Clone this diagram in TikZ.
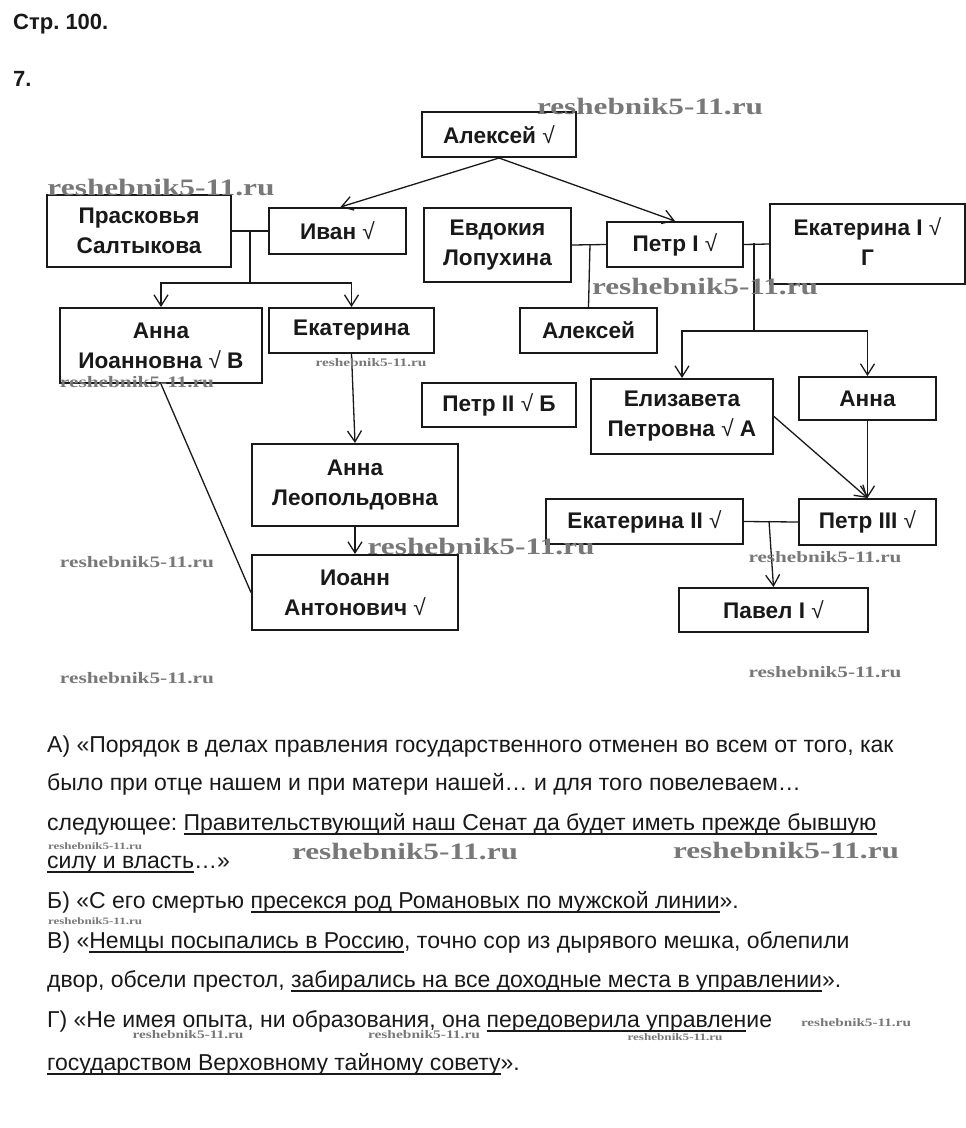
\documentclass[tikz,border=0pt]{standalone}
\usepackage{fontspec}
\setmainfont{Liberation Sans}
\newfontfamily\wmfont{Liberation Serif}
\usetikzlibrary{arrows.meta}
\frenchspacing
\newsavebox\myulbox
\newcommand{\myul}[1]{\sbox\myulbox{#1}\rlap{\rule[-4.6pt]{\wd\myulbox}{2pt}}\usebox\myulbox}
\newcommand{\chk}{{\mdseries √}}
\newlength\wmh
\newcommand{\wmark}[1]{\setlength\wmh{#1}\resizebox{#1}{0.072\wmh}{\wmfont\bfseries reshebnik5-11.ru}}
\definecolor{ink}{RGB}{25,25,25}
\definecolor{wmgray}{RGB}{120,120,120}
\begin{document}
\begin{tikzpicture}[x=1pt,y=-1pt,
  box/.style={draw=ink, line width=2pt, inner sep=0pt, align=center, anchor=north west,
    font=\fontsize{22.6}{30}\selectfont\bfseries, text=ink},
  conn/.style={draw=ink, line width=1.3pt},
  arr/.style={conn, -{Straight Barb[length=11pt,width=14pt,line width=1.3pt]}},
  body/.style={anchor=base west, inner sep=0pt, font=\fontsize{23}{27}\selectfont, text=ink},
  head/.style={anchor=base west, inner sep=0pt, font=\fontsize{22}{26}\selectfont\bfseries, text=ink},
  wm/.style={inner sep=0pt, text=wmgray}]
\useasboundingbox[fill=white] (0,0) rectangle (966,1128);

\node[head] (h1) at (13,29) {Стр. 100.};
\node[head] (h2) at (13,86) {7.};

% boxes
\node[box, minimum width=154pt, minimum height=45pt] (alex) at (421,111) {Алексей \chk};
\node[box, minimum width=184pt, minimum height=72pt] (prask) at (46,194) {Прасковья\\Салтыкова};
\node[box, minimum width=137pt, minimum height=46pt] (ivan) at (268,207) {Иван \chk};
\node[box, minimum width=147pt, minimum height=74pt] (evdok) at (423,207) {Евдокия\\Лопухина};
\node[box, minimum width=136pt, minimum height=45pt] (petr1) at (606,221) {Петр I \chk};
\node[box, minimum width=195pt, minimum height=80pt] (ekat1) at (769,203) {\raisebox{5pt}{\shortstack{Екатерина I \chk\\[7pt]Г}}};
\node[box, minimum width=202pt, minimum height=75pt] (annaI) at (59,307) {Анна\\Иоанновна \chk{} В};
\node[box, minimum width=165pt, minimum height=45pt] (ekat) at (268,307) {Екатерина};
\node[box, minimum width=137pt, minimum height=45pt] (alexS) at (519,307) {Алексей};
\node[box, minimum width=154pt, minimum height=44pt] (petr2) at (421,382) {Петр II \chk{} Б};
\node[box, minimum width=182pt, minimum height=75pt] (eliz) at (590,378) {Елизавета\\Петровна \chk{} А};
\node[box, minimum width=137pt, minimum height=43pt] (anna) at (798,376) {Анна};
\node[box, minimum width=206pt, minimum height=82pt] (annaL) at (251,443) {Анна\\Леопольдовна};
\node[box, minimum width=206pt, minimum height=75pt] (ioann) at (251,554) {Иоанн\\Антонович \chk};
\node[box, minimum width=197pt, minimum height=45pt] (ekat2) at (545,498) {Екатерина II \chk};
\node[box, minimum width=137pt, minimum height=46pt] (petr3) at (798,498) {Петр III \chk};
\node[box, minimum width=189pt, minimum height=44pt] (pavel) at (678,587) {Павел I \chk};

% connectors
\draw[arr] (alex.south) -- ([xshift=3pt]ivan.north);
\draw[arr] (alex.south) -- (petr1.north);

\draw[conn] (prask.east) -- (ivan.west);
\coordinate (m1) at (250,230);
\coordinate (j1) at (250,283);
\draw[conn] (m1) -- (j1);
\draw[arr] (j1) -| (annaI.north);
\draw[arr] (j1) -| (ekat.north);
\draw[arr] (ekat.south) -- (annaL.north);
\draw[arr] (annaL.south) -- (ioann.north);
\draw[conn] (annaI.south) -- (ioann.west);

\draw[conn] (evdok.east) -- (petr1.west);
\coordinate (m2) at (590,244);
\draw[conn] (m2) -- (alexS.north);

\draw[conn] (petr1.east) -- (ekat1.west);
\coordinate (m3) at (754,243);
\coordinate (j3) at (754,331);
\draw[conn] (m3) -- (j3);
\draw[arr] (j3) -| (eliz.north);
\draw[arr] (j3) -| (anna.north);
\draw[arr] (eliz.east) -- (petr3.north);
\draw[arr] (anna.south) -- (petr3.north);

\draw[conn] (ekat2.east) -- (petr3.west);
\coordinate (m4) at (769,521);
\draw[arr] (m4) -- (pavel.north);

% text
\node[body] (t1) at (47,752) {А) «Порядок в делах правления государственного отменен во всем от того, как};
\node[body] (t2) at (47,790) {было при отце нашем и при матери нашей… и для того повелеваем…};
\node[body] (t3) at (47,830) {следующее: \myul{Правительствующий наш Сенат да будет иметь прежде бывшую}};
\node[body] (t4) at (47,868) {\myul{силу и власть}…»};
\node[body] (t5) at (47,908) {Б) «С его смертью \myul{пресекся род Романовых по мужской линии}».};
\node[body] (t6) at (47,948) {В) «\myul{Немцы посыпались в Россию}, точно сор из дырявого мешка, облепили};
\node[body] (t7) at (47,987) {двор, обсели престол, \myul{забирались на все доходные места в управлении}».};
\node[body] (t8) at (47,1027) {Г) «Не имея опыта, ни образования, она \myul{передоверила управлен}ие};
\node[body] (t9) at (47,1070) {\myul{государством Верховному тайному совету}».};

% watermarks
\node[wm] (w1) at (650,107) {\wmark{226pt}};
\node[wm] (w2) at (161,187) {\wmark{227pt}};
\node[wm] (w3) at (705,287) {\wmark{226pt}};
\node[wm] (w4) at (371,363) {\wmark{111pt}};
\node[wm] (w5) at (137,382) {\wmark{154pt}};
\node[wm] (w6) at (137,562) {\wmark{154pt}};
\node[wm] (w7) at (137,678) {\wmark{154pt}};
\node[wm] (w8) at (481,546) {\wmark{227pt}};
\node[wm] (w9) at (825,557) {\wmark{153pt}};
\node[wm] (w10) at (825,672) {\wmark{153pt}};
\node[wm] (w11) at (95,846) {\wmark{94pt}};
\node[wm] (w12) at (405,852) {\wmark{226pt}};
\node[wm] (w13) at (786,851) {\wmark{226pt}};
\node[wm] (w14) at (95,921) {\wmark{94pt}};
\node[wm] (w15) at (188,1035) {\wmark{111pt}};
\node[wm] (w16) at (424,1035) {\wmark{112pt}};
\node[wm] (w17) at (675,1037) {\wmark{95pt}};
\node[wm] (w18) at (856,1023) {\wmark{110pt}};
\end{tikzpicture}
\end{document}
